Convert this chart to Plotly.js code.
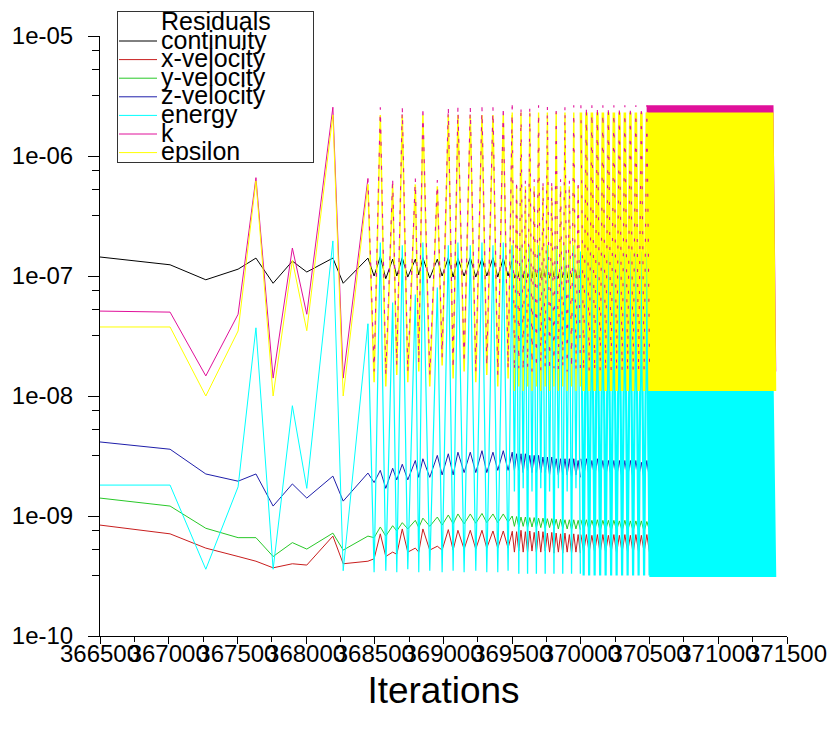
<!DOCTYPE html>
<html>
<head>
<meta charset="utf-8">
<script src="https://cdn.plot.ly/plotly-3.0.1.min.js"></script>
<style>html,body{margin:0;padding:0;background:#fff}#chart{width:830px;height:735px}</style>
</head>
<body>
<div id="chart"></div>
<script>
// ---------- DATA ----------
const seriesNames  = ['continuity','x-velocity','y-velocity','z-velocity','energy','k','epsilon'];
const seriesColors = ['#000000','#c81e1e','#28c828','#1e1eaa','#00ffff','#e0109a','#ffff00'];

// early, sparse part (366500 - 369500)
const iterAB = [366500,367010,367270,367505,367635,367760,367900,368005,368195,368270,368450,368495,368540,368580,368630,368660,368700,368740,368795,368820,368850,368900,368955,368990,369035,369070,369105,369150,369195,369235,369280,369315,369360,369395,369435,369470,369500];
const contAB = [1.44e-7,1.24e-7,9.3e-8,1.14e-7,1.41e-7,8.7e-8,1.33e-7,1.08e-7,1.41e-7,8.7e-8,1.41e-7,1.0e-7,1.45e-7,9.5e-8,1.38e-7,1.0e-7,1.42e-7,9.8e-8,1.38e-7,1.02e-7,1.42e-7,9.6e-8,1.38e-7,1.0e-7,1.42e-7,9.8e-8,1.4e-7,1.0e-7,1.42e-7,9.8e-8,1.4e-7,1.0e-7,1.42e-7,9.8e-8,1.4e-7,1.0e-7,1.35e-7];
const xvelAB = [8.4e-10,7.1e-10,5.4e-10,4.6e-10,4.2e-10,3.7e-10,4.0e-10,3.9e-10,6.8e-10,4.0e-10,4.2e-10,4.4e-10,7.1e-10,4.6e-10,5.0e-10,4.8e-10,7.8e-10,5.0e-10,5.4e-10,5.0e-10,7.8e-10,5.2e-10,5.6e-10,5.2e-10,7.7e-10,5.2e-10,7.6e-10,5.3e-10,7.6e-10,5.3e-10,7.6e-10,5.4e-10,7.5e-10,5.4e-10,7.5e-10,5.4e-10,7.4e-10];
const yvelAB = [1.41e-9,1.21e-9,7.9e-10,6.6e-10,6.6e-10,4.6e-10,6.0e-10,5.3e-10,7.2e-10,5.2e-10,6.8e-10,6.6e-10,8.1e-10,6.8e-10,8.3e-10,7.5e-10,8.8e-10,7.8e-10,9.2e-10,8.0e-10,9.6e-10,8.2e-10,9.8e-10,8.4e-10,1.02e-9,8.6e-10,1.04e-9,8.6e-10,1.04e-9,8.7e-10,1.05e-9,8.8e-10,1.04e-9,8.8e-10,1.04e-9,8.9e-10,1.0e-9];
const zvelAB = [4.14e-9,3.6e-9,2.24e-9,1.95e-9,2.24e-9,1.21e-9,1.85e-9,1.41e-9,2.15e-9,1.33e-9,2.28e-9,1.9e-9,2.4e-9,1.7e-9,2.5e-9,2.0e-9,2.7e-9,2.0e-9,2.9e-9,2.1e-9,3.0e-9,2.1e-9,3.2e-9,2.2e-9,3.3e-9,2.2e-9,3.4e-9,2.3e-9,3.4e-9,2.3e-9,3.5e-9,2.3e-9,3.4e-9,2.4e-9,3.5e-9,2.4e-9,3.4e-9];
const energyAB = [1.81e-9,1.81e-9,3.6e-10,1.75e-9,3.7e-8,3.6e-10,8.3e-9,1.7e-9,1.96e-7,3.5e-10,4.0e-8,3.4e-10,1.9e-7,3.5e-10,6.0e-8,3.4e-10,1.8e-7,3.6e-10,7.0e-8,3.4e-10,1.9e-7,3.5e-10,8.0e-8,3.4e-10,1.8e-7,3.5e-10,1.9e-7,3.4e-10,1.8e-7,3.5e-10,1.9e-7,3.4e-10,1.8e-7,3.4e-10,1.9e-7,3.5e-10,1.8e-7];
const kAB = [5.1e-8,5.0e-8,1.47e-8,4.8e-8,6.6e-7,1.41e-8,1.71e-7,4.8e-8,2.55e-6,1.41e-8,6.5e-7,1.6e-8,2.55e-6,1.5e-8,6.5e-7,1.8e-8,2.55e-6,1.6e-8,6.5e-7,1.9e-8,2.55e-6,1.5e-8,6.3e-7,2.1e-8,2.55e-6,1.7e-8,2.55e-6,1.9e-8,2.55e-6,1.6e-8,2.55e-6,1.8e-8,2.55e-6,1.5e-8,2.55e-6,1.7e-8,2.55e-6];
const epsAB = [3.76e-8,3.76e-8,1.0e-8,3.48e-8,6.2e-7,1.0e-8,1.35e-7,3.5e-8,2.2e-6,1.0e-8,5.8e-7,1.3e-8,2.2e-6,1.2e-8,5.8e-7,1.5e-8,2.2e-6,1.3e-8,5.8e-7,1.6e-8,2.2e-6,1.2e-8,5.6e-7,1.8e-8,2.2e-6,1.4e-8,2.2e-6,1.6e-8,2.2e-6,1.3e-8,2.2e-6,1.5e-8,2.2e-6,1.2e-8,2.2e-6,1.4e-8,2.2e-6];

// dense part 369500 - 370000
const iterC = [369500,369516,369532,369548,369564,369580,369596,369612,369628,369644,369660,369676,369692,369708,369724,369740,369756,369772,369788,369804,369820,369836,369852,369868,369884,369900,369916,369932,369948,369964,369980,369996];
const contC = [1.2e-7,9.6e-8,1.22e-7,9.8e-8,1.2e-7,9.6e-8,1.22e-7,9.7e-8,1.2e-7,9.6e-8,1.21e-7,9.8e-8,1.2e-7,9.6e-8,1.22e-7,9.7e-8,1.2e-7,9.6e-8,1.21e-7,9.8e-8,1.2e-7,9.6e-8,1.22e-7,9.7e-8,1.2e-7,9.6e-8,1.21e-7,9.8e-8,1.2e-7,9.6e-8,1.22e-7,9.7e-8];
const xvelC = [7.5e-10,5.0e-10,7.4e-10,5.1e-10,7.6e-10,5.0e-10,7.4e-10,5.0e-10,7.5e-10,5.1e-10,7.3e-10,5.0e-10,7.5e-10,5.0e-10,7.4e-10,5.1e-10,7.2e-10,5.0e-10,7.3e-10,4.9e-10,7.2e-10,5.0e-10,7.1e-10,4.9e-10,7.2e-10,5.0e-10,7.0e-10,4.9e-10,7.1e-10,5.0e-10,7.0e-10,4.9e-10];
const yvelC = [1.0e-9,8.2e-10,9.9e-10,8.1e-10,9.8e-10,8.2e-10,9.8e-10,8.0e-10,9.7e-10,8.1e-10,9.7e-10,8.0e-10,9.6e-10,8.0e-10,9.6e-10,7.9e-10,9.5e-10,8.0e-10,9.5e-10,7.9e-10,9.4e-10,7.8e-10,9.4e-10,7.9e-10,9.3e-10,7.8e-10,9.3e-10,7.7e-10,9.3e-10,7.8e-10,9.2e-10,7.7e-10];
const zvelC = [3.4e-9,2.4e-9,3.3e-9,2.4e-9,3.3e-9,2.3e-9,3.3e-9,2.4e-9,3.2e-9,2.3e-9,3.2e-9,2.3e-9,3.2e-9,2.3e-9,3.1e-9,2.3e-9,3.1e-9,2.2e-9,3.1e-9,2.3e-9,3.0e-9,2.2e-9,3.0e-9,2.2e-9,3.0e-9,2.2e-9,3.0e-9,2.1e-9,3.0e-9,2.2e-9,2.9e-9,2.1e-9];
const energyC = [1.8e-7,1.6e-9,1.8e-7,3.3e-10,1.8e-7,1.7e-9,1.8e-7,3.3e-10,1.8e-7,1.6e-9,1.8e-7,3.3e-10,1.8e-7,1.7e-9,1.8e-7,3.3e-10,1.8e-7,1.6e-9,1.8e-7,3.3e-10,1.8e-7,1.7e-9,1.8e-7,3.3e-10,1.8e-7,1.6e-9,1.8e-7,3.3e-10,1.8e-7,1.7e-9,1.8e-7,3.3e-10];
const kC = [2.65e-6,1.6e-8,6.4e-7,1.7e-8,2.65e-6,1.6e-8,6.4e-7,1.7e-8,2.65e-6,1.6e-8,6.4e-7,1.7e-8,2.65e-6,1.6e-8,6.4e-7,1.7e-8,2.65e-6,1.6e-8,6.4e-7,1.7e-8,2.65e-6,1.6e-8,6.4e-7,1.7e-8,2.65e-6,1.6e-8,6.4e-7,1.7e-8,2.65e-6,1.6e-8,6.4e-7,1.7e-8];
const epsC = [2.3e-6,1.1e-8,5.6e-7,1.2e-8,2.3e-6,1.1e-8,5.6e-7,1.2e-8,2.3e-6,1.1e-8,5.6e-7,1.2e-8,2.3e-6,1.1e-8,5.6e-7,1.2e-8,2.3e-6,1.1e-8,5.6e-7,1.2e-8,2.3e-6,1.1e-8,5.6e-7,1.2e-8,2.3e-6,1.1e-8,5.6e-7,1.2e-8,2.3e-6,1.1e-8,5.6e-7,1.2e-8];

// dense part 370000 - 370500
const iterD = [370000,370020,370040,370060,370080,370100,370120,370140,370160,370180,370200,370220,370240,370260,370280,370300,370320,370340,370360,370380,370400,370420,370440,370460,370480,370500];
const xvelD = [7.0e-10,5.0e-10,7.0e-10,5.0e-10,6.9e-10,5.0e-10,7.0e-10,4.9e-10,7.0e-10,5.0e-10,6.9e-10,5.0e-10,7.0e-10,4.9e-10,6.9e-10,5.0e-10,7.0e-10,5.0e-10,6.9e-10,4.9e-10,7.0e-10,5.0e-10,6.9e-10,5.0e-10,7.0e-10,4.9e-10];
const yvelD = [9.3e-10,7.6e-10,9.3e-10,7.6e-10,9.2e-10,7.6e-10,9.3e-10,7.5e-10,9.2e-10,7.6e-10,9.2e-10,7.5e-10,9.2e-10,7.6e-10,9.1e-10,7.5e-10,9.2e-10,7.5e-10,9.1e-10,7.5e-10,9.1e-10,7.5e-10,9.1e-10,7.4e-10,9.0e-10,7.5e-10];
const zvelD = [3.0e-9,2.1e-9,3.0e-9,2.1e-9,2.9e-9,2.1e-9,3.0e-9,2.1e-9,2.9e-9,2.1e-9,2.9e-9,2.1e-9,2.9e-9,2.1e-9,2.9e-9,2.0e-9,2.9e-9,2.1e-9,2.9e-9,2.0e-9,2.9e-9,2.1e-9,2.8e-9,2.0e-9,2.9e-9,2.0e-9];
const energyD = [1.6e-7,3.2e-10,1.6e-7,3.2e-10,1.6e-7,3.2e-10,1.6e-7,3.2e-10,1.6e-7,3.2e-10,1.6e-7,3.2e-10,1.6e-7,3.2e-10,1.6e-7,3.2e-10,1.6e-7,3.2e-10,1.6e-7,3.2e-10,1.6e-7,3.2e-10,1.6e-7,3.2e-10,1.6e-7,3.2e-10];
const kD = [2.65e-6,1.6e-8,2.65e-6,1.6e-8,2.65e-6,1.6e-8,2.65e-6,1.6e-8,2.65e-6,1.6e-8,2.65e-6,1.6e-8,2.65e-6,1.6e-8,2.65e-6,1.6e-8,2.65e-6,1.6e-8,2.65e-6,1.6e-8,2.65e-6,1.6e-8,2.65e-6,1.6e-8,2.65e-6,1.6e-8];
const epsD = [2.3e-6,1.1e-8,2.3e-6,1.1e-8,2.3e-6,1.1e-8,2.3e-6,1.1e-8,2.3e-6,1.1e-8,2.3e-6,1.1e-8,2.3e-6,1.1e-8,2.3e-6,1.1e-8,2.3e-6,1.1e-8,2.3e-6,1.1e-8,2.3e-6,1.1e-8,2.3e-6,1.1e-8,2.3e-6,1.1e-8];

// densest part 370500 - 371400
const iterE = [370500,370520,370540,370560,370580,370600,370620,370640,370660,370680,370700,370720,370740,370760,370780,370800,370820,370840,370860,370880,370900,370920,370940,370960,370980,371000,371020,371040,371060,371080,371100,371120,371140,371160,371180,371200,371220,371240,371260,371280,371300,371320,371340,371360,371380,371400];
const energyE = [1.5e-8,3.1e-10,1.5e-8,3.1e-10,1.5e-8,3.1e-10,1.5e-8,3.1e-10,1.5e-8,3.1e-10,1.5e-8,3.1e-10,1.5e-8,3.1e-10,1.5e-8,3.1e-10,1.5e-8,3.1e-10,1.5e-8,3.1e-10,1.5e-8,3.1e-10,1.5e-8,3.1e-10,1.5e-8,3.1e-10,1.5e-8,3.1e-10,1.5e-8,3.1e-10,1.5e-8,3.1e-10,1.5e-8,3.1e-10,1.5e-8,3.1e-10,1.5e-8,3.1e-10,1.5e-8,3.1e-10,1.5e-8,3.1e-10,1.5e-8,3.1e-10,1.5e-8,3.1e-10];
const kE = [2.65e-6,1.6e-8,2.65e-6,1.6e-8,2.65e-6,1.6e-8,2.65e-6,1.6e-8,2.65e-6,1.6e-8,2.65e-6,1.6e-8,2.65e-6,1.6e-8,2.65e-6,1.6e-8,2.65e-6,1.6e-8,2.65e-6,1.6e-8,2.65e-6,1.6e-8,2.65e-6,1.6e-8,2.65e-6,1.6e-8,2.65e-6,1.6e-8,2.65e-6,1.6e-8,2.65e-6,1.6e-8,2.65e-6,1.6e-8,2.65e-6,1.6e-8,2.65e-6,1.6e-8,2.65e-6,1.6e-8,2.65e-6,1.6e-8,2.65e-6,1.6e-8,2.65e-6,1.6e-8];
const epsE = [2.3e-6,1.1e-8,2.3e-6,1.1e-8,2.3e-6,1.1e-8,2.3e-6,1.1e-8,2.3e-6,1.1e-8,2.3e-6,1.1e-8,2.3e-6,1.1e-8,2.3e-6,1.1e-8,2.3e-6,1.1e-8,2.3e-6,1.1e-8,2.3e-6,1.1e-8,2.3e-6,1.1e-8,2.3e-6,1.1e-8,2.3e-6,1.1e-8,2.3e-6,1.1e-8,2.3e-6,1.1e-8,2.3e-6,1.1e-8,2.3e-6,1.1e-8,2.3e-6,1.1e-8,2.3e-6,1.1e-8,2.3e-6,1.1e-8,2.3e-6,1.1e-8,2.3e-6,1.1e-8];

// axis ticks
const xTickVals = [366500,367000,367500,368000,368500,369000,369500,370000,370500,371000,371500];
const xTickText = ['366500','367000','367500','368000','368500','369000','369500','370000','370500','371000','371500'];
const xMinorVals = [366750,367250,367750,368250,368750,369250,369750,370250,370750,371250];
const yTickVals = [1e-5,1e-6,1e-7,1e-8,1e-9,1e-10];
const yTickText = ['1e-05','1e-06','1e-07','1e-08','1e-09','1e-10'];
const yMinorVals = [7.5e-6,5.3e-6,3.2e-6,7.5e-7,5.3e-7,3.2e-7,7.5e-8,5.3e-8,3.2e-8,7.5e-9,5.3e-9,3.2e-9,7.5e-10,5.3e-10,3.2e-10];

// ---------- BUILD ----------
const FONT = '"Liberation Sans", Arial, Helvetica, sans-serif';
const SPLIT = 10; // index in iterAB where the sparse early part turns into the busier one
const phaseX = [iterAB.slice(0, SPLIT + 1), iterAB.slice(SPLIT), iterC, iterD, iterE];
const abY = a => [a.slice(0, SPLIT + 1), a.slice(SPLIT)];
const seriesY = [
  [...abY(contAB),   contC,   null,    null],
  [...abY(xvelAB),   xvelC,   xvelD,   null],
  [...abY(yvelAB),   yvelC,   yvelD,   null],
  [...abY(zvelAB),   zvelC,   zvelD,   null],
  [...abY(energyAB), energyC, energyD, energyE],
  [...abY(kAB),      kC,      kD,      kE],
  [...abY(epsAB),    epsC,    epsD,    epsE]
];
// line widths per phase
const WIDTHS = {
  keps:   [1, 1.5, 1.4, 2.6, 6],
  energy: [1, 1.2, 1.3, 2.2, 6],
  other:  [1, 1,   1,   1,   1]
};
const widthFor = (s, p) => (s >= 5 ? WIDTHS.keps : s === 4 ? WIDTHS.energy : WIDTHS.other)[p];
// k runs along epsilon in the busy phases and shows through it as a broken line
const K_OVERLAY_DASH = {1: '4px,8px', 2: '3px,12px', 3: '3px,12px'};

const traces = [], overlay = [];
seriesY.forEach((phs, s) => {
  let first = true;
  phs.forEach((ys, p) => {
    if (!ys) return;
    const tr = {
      type: 'scatter', mode: 'lines',
      x: phaseX[p], y: ys,
      name: seriesNames[s],
      showlegend: first,
      line: {color: seriesColors[s], width: widthFor(s, p), simplify: false},
      hoverinfo: 'skip'
    };
    first = false;
    if (s === 5 && K_OVERLAY_DASH[p]) {
      tr.line.width = 1.1;
      tr.line.dash = K_OVERLAY_DASH[p];
      overlay.push(tr);
    } else {
      traces.push(tr);
    }
  });
});
traces.push(...overlay);

const layout = {
  width: 830, height: 735,
  margin: {l: 100, r: 43, t: 35, b: 99, pad: 0},
  paper_bgcolor: '#ffffff', plot_bgcolor: '#ffffff',
  font: {family: FONT, color: '#000000'},
  hovermode: false,
  showlegend: true,
  legend: {
    x: 0.0247, y: 1.04, xanchor: 'left', yanchor: 'top',
    bgcolor: '#ffffff', bordercolor: '#333333', borderwidth: 1,
    font: {family: FONT, size: 25, color: '#000000'},
    title: {text: 'Residuals', font: {family: FONT, size: 25, color: '#000000'}},
    itemwidth: 36, tracegroupgap: 0, traceorder: 'normal'
  },
  xaxis: {
    range: [366500, 371500], tickmode: 'array', tickvals: xTickVals, ticktext: xTickText,
    tickangle: 0, ticks: 'outside', ticklen: 7, tickwidth: 1, tickcolor: '#000', ticklabelstandoff: -11,
    showline: true, linecolor: '#000', linewidth: 1, showgrid: false, zeroline: false,
    tickfont: {family: FONT, size: 24, color: '#000'},
    minor: {tickmode: 'array', tickvals: xMinorVals, ticks: 'outside', ticklen: 5, tickcolor: '#000', showgrid: false},
    title: {text: 'Iterations', font: {family: FONT, size: 37, color: '#000'}, standoff: 11},
    automargin: false, fixedrange: true
  },
  yaxis: {
    type: 'log', range: [-10, -5], tickmode: 'array', tickvals: yTickVals, ticktext: yTickText,
    ticks: 'outside', ticklen: 11, tickwidth: 1, tickcolor: '#000', ticklabelstandoff: 10,
    showline: true, linecolor: '#000', linewidth: 1, showgrid: false, zeroline: false,
    tickfont: {family: FONT, size: 24, color: '#000'},
    minor: {tickmode: 'array', tickvals: yMinorVals, ticks: 'outside', ticklen: 7, tickcolor: '#000', showgrid: false},
    automargin: false, fixedrange: true
  }
};

// legend geometry of the reference (absolute page pixels)
const LEG = {left: 117, top: 11, w: 196, h: 151, lineX0: 119, lineLen: 38, textX: 161, firstY: 41, step: 18.6, textDy: 7.5, titleBase: 29.5};

function fixLegend(gd) {
  const leg = gd.querySelector('g.legend');
  if (!leg) return;
  const m = /translate\(\s*([-\d.e]+)[\s,]+([-\d.e]+)\s*\)/.exec(leg.getAttribute('transform') || '');
  const lx = m ? parseFloat(m[1]) : LEG.left, ly = m ? parseFloat(m[2]) : LEG.top;
  leg.querySelectorAll('g.groups').forEach(g => g.removeAttribute('transform'));
  const sb = leg.querySelector('g.scrollbox'); if (sb) sb.removeAttribute('transform');
  leg.querySelectorAll('g.traces').forEach((it, i) => {
    it.setAttribute('transform', 'translate(0,' + (LEG.firstY + i * LEG.step - ly).toFixed(2) + ')');
    const t = it.querySelector('text.legendtext');
    if (t) { t.setAttribute('x', LEG.textX - lx); t.setAttribute('y', LEG.textDy); }
    it.querySelectorAll('.legendlines path').forEach(p => p.setAttribute('d', 'M' + (LEG.lineX0 - lx) + ',0h' + LEG.lineLen));
  });
  const title = leg.querySelector('text.legendtitletext');
  if (title) { title.removeAttribute('transform'); title.setAttribute('x', LEG.textX - lx); title.setAttribute('y', LEG.titleBase - ly); }
  const bg = leg.querySelector('rect.bg');
  if (bg) { bg.setAttribute('x', LEG.left - lx); bg.setAttribute('y', LEG.top - ly); bg.setAttribute('width', LEG.w); bg.setAttribute('height', LEG.h); }
  gd.querySelectorAll('clipPath').forEach(cp => {
    if ((cp.id || '').indexOf('legend') === 0) {
      const r = cp.querySelector('rect');
      if (r) { r.setAttribute('x', LEG.left - lx); r.setAttribute('y', LEG.top - ly); r.setAttribute('width', LEG.w); r.setAttribute('height', LEG.h); }
    }
  });
}

const gd = document.getElementById('chart');
Plotly.newPlot(gd, traces, layout, {displayModeBar: false, staticPlot: true, responsive: false})
  .then(() => fixLegend(gd));
</script>
</body>
</html>
